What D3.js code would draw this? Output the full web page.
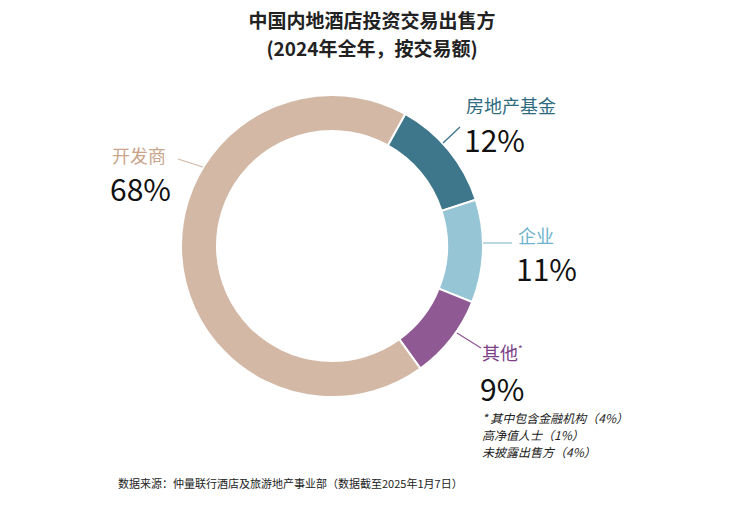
<!DOCTYPE html><html><head><meta charset="utf-8"><script src="https://cdn.jsdelivr.net/npm/d3@7"></script>
<style>body{margin:0;background:#fff}text{font-family:"Noto Sans CJK SC","Noto Sans",sans-serif}</style></head><body>
<svg id="c" width="744" height="506"></svg>
<script>
const categories=["房地产基金","企业","其他","开发商"];
const values=[12,11,9,68];
const labels=["12%","11%","9%","68%"];
const colors=["#3e778b","#96c5d6","#8f5a93","#d2b8a5"];
const labelColors=["#2f6b80","#6fb3cc","#7d3f86","#c9a58c"];
const footnotes=["* 其中包含金融机构（4%）","高净值人士（1%）","未披露出售方（4%）"];
const svg=d3.select("#c");
svg.append("text").attr("x",372).attr("y",28).attr("text-anchor","middle").attr("font-size",19).attr("font-weight",700).attr("fill","#222").text("中国内地酒店投资交易出售方");
svg.append("text").attr("x",372).attr("y",56).attr("text-anchor","middle").attr("font-size",19).attr("font-weight",700).attr("fill","#222").text("(2024年全年，按交易额)");
const cx=332,cy=246;
const pie=d3.pie().sort(null).startAngle(0.506).endAngle(0.506+2*Math.PI);
const arc=d3.arc().innerRadius(115).outerRadius(151);
const g=svg.append("g").attr("transform",`translate(${cx},${cy})`);
g.selectAll("path").data(pie(values)).join("path").attr("d",arc).attr("fill",(d,i)=>colors[i]).attr("stroke","#fff").attr("stroke-width",2);
const lines=[[460,127,443,143],[483,243,512,243],[457,333,481,348],[178,159,203,167]];
const lpos=[[466,113,152],[518,243,281],[482,360,401],[112,163,201]];
lines.forEach((l,i)=>svg.append("line").attr("x1",l[0]).attr("y1",l[1]).attr("x2",l[2]).attr("y2",l[3]).attr("stroke",colors[i]).attr("stroke-width",1.3));
categories.forEach((c,i)=>{
 const t=svg.append("text").attr("x",lpos[i][0]).attr("y",lpos[i][1]).attr("font-size",18).attr("fill",labelColors[i]).text(c);
 if(i==2)t.append("tspan").attr("font-size",10).attr("dy",-7).text("*");
 svg.append("text").attr("x",lpos[i][0]-2).attr("y",lpos[i][2]).attr("font-size",30).attr("fill","#111").attr("font-family","Lato,'Noto Sans',sans-serif").text(labels[i]);
});
footnotes.forEach((f,i)=>svg.append("text").attr("x",482).attr("y",423+i*17).attr("font-size",12).attr("font-style","italic").attr("fill","#222").text(f));
svg.append("text").attr("x",118).attr("y",488).attr("font-size",11).attr("fill","#222").text("数据来源：仲量联行酒店及旅游地产事业部（数据截至2025年1月7日）");
</script></body></html>
